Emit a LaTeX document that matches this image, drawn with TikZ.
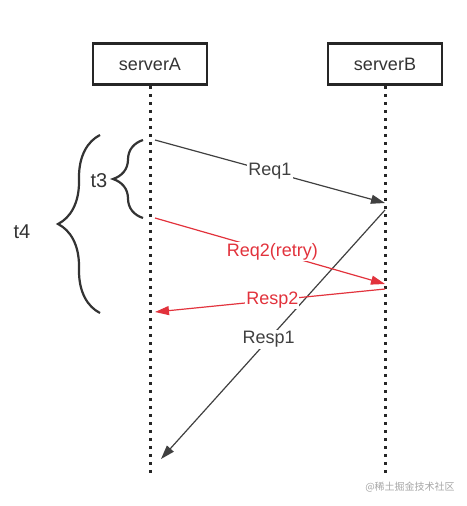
\documentclass[tikz,border=0pt]{standalone}
\usepackage{fontspec}
\setmainfont{Liberation Sans}
\newfontfamily\cjk{Noto Sans CJK SC}
\usetikzlibrary{arrows.meta,decorations.pathreplacing}

\definecolor{lineGray}{HTML}{404040}
\definecolor{retryRed}{HTML}{E2323C}

\tikzset{
  server/.style={draw=black!85, line width=2.5pt, minimum width=114, minimum height=41,
    font=\fontsize{18}{20}\selectfont, text=black!80},
  lifeline/.style={line width=3pt, dash pattern=on 3pt off 5pt, black!85},
  msg/.style={line width=1.2pt, -{Triangle[length=14pt,width=9pt]}},
  lbl/.style={fill=white, inner sep=1pt, font=\fontsize{18}{20}\selectfont},
  gap/.style={decorate, decoration={brace, amplitude=#1}, line width=2.2pt, black!80},
}

\begin{document}
\begin{tikzpicture}[x=1pt, y=-1pt]
\useasboundingbox (0,0) rectangle (466,506);

% servers and lifelines
\node[server] (serverA) at (150,64) {serverA};
\node[server] (serverB) at (385,64) {serverB};
\coordinate (endA) at (150,476);
\coordinate (endB) at (385,476);
\draw[lifeline] (serverA.south) -- (endA);
\draw[lifeline] (serverB.south) -- (endB);

% message ends
\coordinate (req1Out) at (155,140);
\coordinate (req1In) at (385,203);
\coordinate (resp1Out) at (385,210);
\coordinate (resp1In) at (161,459);
\coordinate (req2Out) at (155,218);
\coordinate (req2In) at (385,284);
\coordinate (resp2Out) at (385,289);
\coordinate (resp2In) at (155,312);

\draw[msg, lineGray] (req1Out) -- node[lbl, text=lineGray] {Req1} (req1In);
\draw[msg, lineGray] (resp1Out) -- node[lbl, text=lineGray, pos=0.52] {Resp1} (resp1In);
\draw[msg, retryRed] (req2Out) -- node[lbl, text=retryRed, pos=0.51] {Req2(retry)} (req2In);
\draw[msg, retryRed] (resp2Out) -- node[lbl, text=retryRed, pos=0.49] {Resp2} (resp2In);

% timing braces
\draw[gap=42] (100,313) -- (100,135);
\draw[gap=30] (143,218) -- (143,140);
\node[font=\fontsize{20}{22}\selectfont, text=black!80] (t4) at (22,232) {t4};
\node[font=\fontsize{20}{22}\selectfont, text=black!80] (t3) at (99,181) {t3};

\node[font=\cjk\fontsize{10}{12}\selectfont, text=black!35] (mark) at (410,487) {@稀土掘金技术社区};

\end{tikzpicture}
\end{document}
